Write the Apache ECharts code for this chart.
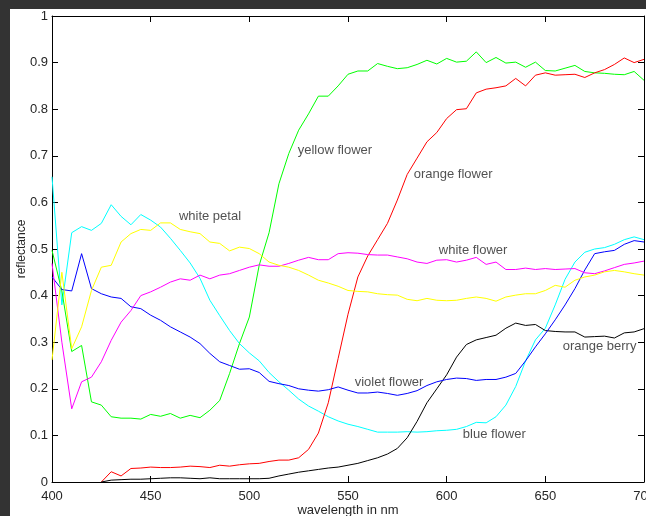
<!DOCTYPE html>
<html>
<head>
<meta charset="utf-8">
<script src="https://cdn.jsdelivr.net/npm/echarts@6/dist/echarts.min.js"></script>
<style>
  html, body { margin: 0; padding: 0; background: #333; width: 646px; height: 516px; overflow: hidden; }
  #chart { position: absolute; left: 10px; top: 9px; width: 636px; height: 507px; background: #fff; }
</style>
</head>
<body>
<div id="chart"></div>
<script>
const wavelengths = [400, 405, 410, 415, 420, 425, 430, 435, 440, 445, 450, 455, 460, 465, 470, 475, 480, 485, 490, 495,
  500, 505, 510, 515, 520, 525, 530, 535, 540, 545, 550, 555, 560, 565, 570, 575, 580, 585, 590, 595,
  600, 605, 610, 615, 620, 625, 630, 635, 640, 645, 650, 655, 660, 665, 670, 675, 680, 685, 690, 695, 700];

const blueFlower = [0.655, 0.38, 0.535, 0.548, 0.54, 0.555, 0.595, 0.57, 0.552, 0.574, 0.562, 0.547, 0.523, 0.497, 0.47, 0.437, 0.39, 0.357, 0.325, 0.297,
  0.277, 0.26, 0.235, 0.215, 0.197, 0.178, 0.163, 0.152, 0.14, 0.131, 0.124, 0.119, 0.113, 0.107, 0.107, 0.107, 0.108, 0.107, 0.108, 0.11,
  0.111, 0.113, 0.119, 0.128, 0.127, 0.14, 0.165, 0.205, 0.26, 0.305, 0.33, 0.38, 0.435, 0.472, 0.493, 0.5, 0.503, 0.51, 0.52, 0.526, 0.52];

const yellowFlower = [0.497, 0.41, 0.28, 0.293, 0.172, 0.165, 0.14, 0.137, 0.137, 0.135, 0.145, 0.141, 0.147, 0.137, 0.143, 0.138, 0.154, 0.175, 0.233, 0.297,
  0.354, 0.465, 0.535, 0.64, 0.705, 0.755, 0.79, 0.828, 0.828, 0.85, 0.875, 0.882, 0.882, 0.898, 0.892, 0.887, 0.889, 0.896, 0.905, 0.897,
  0.909, 0.901, 0.903, 0.923, 0.9, 0.911, 0.899, 0.901, 0.89, 0.901, 0.883, 0.882, 0.888, 0.894, 0.881, 0.878, 0.877, 0.875, 0.874, 0.881, 0.862];

const orangeFlower = [null, null, null, null, null, 0.0, 0.022, 0.013, 0.029, 0.03, 0.032, 0.031, 0.031, 0.032, 0.034, 0.033, 0.031, 0.036, 0.034, 0.037,
  0.039, 0.04, 0.044, 0.047, 0.047, 0.052, 0.07, 0.105, 0.17, 0.265, 0.36, 0.44, 0.485, 0.52, 0.555, 0.605, 0.66, 0.695, 0.73, 0.75,
  0.78, 0.799, 0.801, 0.835, 0.843, 0.846, 0.85, 0.866, 0.85, 0.873, 0.878, 0.873, 0.874, 0.875, 0.868, 0.878, 0.885, 0.896, 0.91, 0.9, 0.907];

const orangeBerry = [null, null, null, null, null, 0.0, 0.004, 0.005, 0.006, 0.006, 0.007, 0.008, 0.009, 0.009, 0.008, 0.007, 0.009, 0.007, 0.007, 0.007,
  0.007, 0.007, 0.008, 0.013, 0.017, 0.021, 0.024, 0.027, 0.03, 0.032, 0.036, 0.04, 0.046, 0.052, 0.06, 0.072, 0.095, 0.13, 0.17, 0.2,
  0.23, 0.268, 0.295, 0.305, 0.31, 0.315, 0.33, 0.341, 0.336, 0.338, 0.325, 0.323, 0.322, 0.322, 0.311, 0.312, 0.313, 0.309, 0.32, 0.322, 0.329];

const violetFlower = [0.44, 0.413, 0.41, 0.49, 0.415, 0.404, 0.397, 0.394, 0.376, 0.372, 0.358, 0.347, 0.333, 0.322, 0.311, 0.297, 0.276, 0.258, 0.25, 0.242,
  0.243, 0.235, 0.216, 0.211, 0.207, 0.2, 0.197, 0.195, 0.198, 0.204, 0.197, 0.191, 0.191, 0.193, 0.19, 0.186, 0.19, 0.196, 0.207, 0.215,
  0.22, 0.223, 0.222, 0.218, 0.22, 0.22, 0.225, 0.233, 0.26, 0.29, 0.318, 0.348, 0.38, 0.415, 0.455, 0.49, 0.494, 0.497, 0.51, 0.518, 0.515];

const whiteFlower = [0.469, 0.3, 0.157, 0.215, 0.225, 0.258, 0.304, 0.343, 0.368, 0.4, 0.408, 0.418, 0.429, 0.436, 0.433, 0.444, 0.436, 0.444, 0.447, 0.454,
  0.461, 0.466, 0.463, 0.463, 0.469, 0.476, 0.482, 0.477, 0.477, 0.49, 0.492, 0.491, 0.488, 0.487, 0.487, 0.483, 0.479, 0.472, 0.469, 0.476,
  0.477, 0.472, 0.476, 0.482, 0.467, 0.472, 0.456, 0.456, 0.459, 0.456, 0.458, 0.456, 0.457, 0.458, 0.449, 0.447, 0.453, 0.46, 0.467, 0.47, 0.474];

const whitePetal = [0.262, 0.45, 0.286, 0.333, 0.411, 0.461, 0.465, 0.515, 0.533, 0.542, 0.54, 0.556, 0.556, 0.542, 0.537, 0.533, 0.515, 0.512, 0.496, 0.504,
  0.501, 0.49, 0.472, 0.465, 0.461, 0.454, 0.444, 0.433, 0.427, 0.42, 0.411, 0.409, 0.408, 0.404, 0.402, 0.401, 0.392, 0.389, 0.394, 0.39,
  0.389, 0.39, 0.394, 0.397, 0.394, 0.388, 0.397, 0.401, 0.404, 0.404, 0.411, 0.422, 0.418, 0.433, 0.44, 0.444, 0.451, 0.454, 0.451, 0.447, 0.444];

// curve annotations: text, wavelength, reflectance (left edge / vertical middle of the text)
const noteTexts = ["white petal", "yellow flower", "orange flower", "white flower", "violet flower", "orange berry", "blue flower"];
const noteX = [464.3, 524.5, 583.3, 596, 553.4, 658.8, 608.2];
const noteY = [0.57, 0.712, 0.66, 0.497, 0.214, 0.291, 0.102];

const FONT = "Liberation Sans";
const TEXT = "#262626";

function pairs(values) {
  return wavelengths.map((w, i) => [w, values[i]]).filter((p) => p[1] !== null);
}

function curve(name, values, color) {
  return {
    name: name,
    type: "line",
    data: pairs(values),
    showSymbol: false,
    symbol: "none",
    lineStyle: { color: color, width: 1 },
    itemStyle: { color: color },
    silent: true,
    z: 3
  };
}

const tickStyle = { show: true, inside: true, length: 6, lineStyle: { color: "#000", width: 1 } };

const chart = echarts.init(document.getElementById("chart"), null, { renderer: "canvas" });
chart.setOption({
  animation: false,
  backgroundColor: "#fff",
  grid: { left: 42, right: 2, top: 7, bottom: 34, containLabel: false, outerBoundsMode: "none" },
  xAxis: [
    {
      type: "value",
      min: 400,
      max: 700,
      interval: 50,
      name: "wavelength in nm",
      nameLocation: "middle",
      nameGap: 22,
      nameMoveOverlap: false,
      nameTextStyle: { fontFamily: FONT, fontSize: 13, color: TEXT },
      axisLine: { show: true, onZero: false, lineStyle: { color: "#000", width: 1 } },
      axisTick: tickStyle,
      axisLabel: { fontFamily: FONT, fontSize: 13, color: TEXT, margin: 8 },
      splitLine: { show: false }
    },
    {
      type: "value",
      position: "top",
      min: 400,
      max: 700,
      interval: 50,
      axisLine: { show: true, onZero: false, lineStyle: { color: "#000", width: 1 } },
      axisTick: tickStyle,
      axisLabel: { show: false },
      splitLine: { show: false }
    }
  ],
  yAxis: [
    {
      type: "value",
      min: 0,
      max: 1,
      interval: 0.1,
      name: "reflectance",
      nameLocation: "middle",
      nameGap: 24,
      nameMoveOverlap: false,
      nameTextStyle: { fontFamily: FONT, fontSize: 12, color: TEXT },
      axisLine: { show: true, onZero: false, lineStyle: { color: "#000", width: 1 } },
      axisTick: tickStyle,
      axisLabel: { fontFamily: FONT, fontSize: 13, color: TEXT, margin: 4 },
      splitLine: { show: false }
    },
    {
      type: "value",
      position: "right",
      min: 0,
      max: 1,
      interval: 0.1,
      axisLine: { show: true, onZero: false, lineStyle: { color: "#000", width: 1 } },
      axisTick: tickStyle,
      axisLabel: { show: false },
      splitLine: { show: false }
    }
  ],
  series: [
    curve("blue flower", blueFlower, "#00ffff"),
    curve("yellow flower", yellowFlower, "#00ff00"),
    curve("orange flower", orangeFlower, "#ff0000"),
    curve("orange berry", orangeBerry, "#000000"),
    curve("violet flower", violetFlower, "#0000ff"),
    curve("white flower", whiteFlower, "#ff00ff"),
    curve("white petal", whitePetal, "#ffff00"),
    {
      name: "notes",
      type: "scatter",
      symbolSize: 0,
      silent: true,
      z: 5,
      data: noteTexts.map((t, i) => ({ name: t, value: [noteX[i], noteY[i]] })),
      label: {
        show: true,
        position: "right",
        distance: 0,
        formatter: (p) => p.name,
        fontFamily: FONT,
        fontSize: 13,
        color: TEXT
      }
    }
  ]
});
</script>
</body>
</html>
